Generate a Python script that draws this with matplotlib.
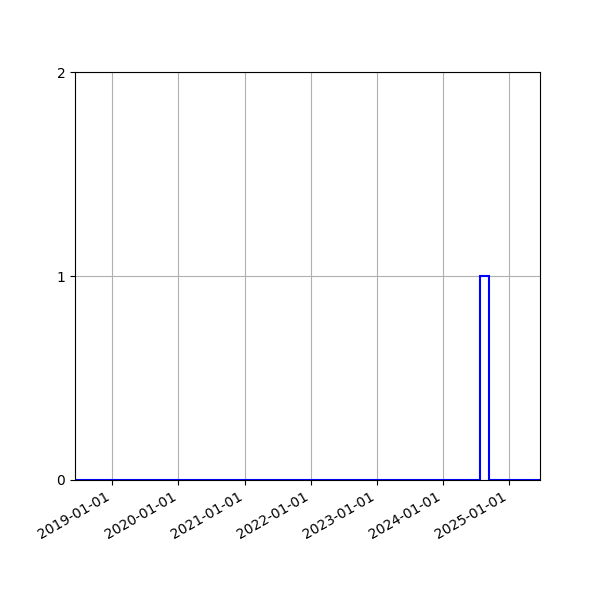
import matplotlib
matplotlib.use("Agg")
import matplotlib.pyplot as plt
import matplotlib.dates as mdates
import numpy as np
import datetime as dt

# data
event_dates = [dt.datetime(2024, 8, 15)]
bin_edges = [dt.datetime(2018, 6, 9), dt.datetime(2024, 7, 21),
             dt.datetime(2024, 9, 12), dt.datetime(2025, 6, 20)]
x_limits = [dt.datetime(2018, 6, 9), dt.datetime(2025, 6, 20)]
y_ticks = [0, 1, 2]

fig, ax = plt.subplots(figsize=(6, 6), dpi=100)
x = mdates.date2num(event_dates)
edges = mdates.date2num(bin_edges)
ax.hist(x, bins=edges, histtype='step', color='blue', linewidth=1.5)
ax.set_xlim(mdates.date2num(x_limits))
ax.set_ylim(0, 2)
ax.set_yticks(y_ticks)
ax.xaxis.set_major_locator(mdates.YearLocator())
ax.xaxis.set_major_formatter(mdates.DateFormatter('%Y-%m-%d'))
ax.grid(True)
fig.autofmt_xdate()
fig.savefig("out.png", dpi=100)
